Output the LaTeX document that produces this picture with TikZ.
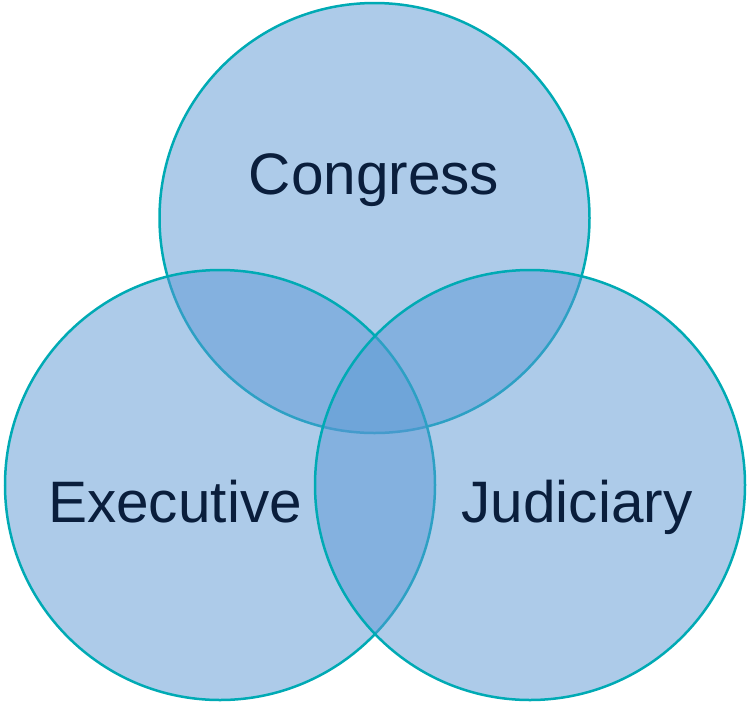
\documentclass[tikz,border=0pt]{standalone}
\usepackage{fontspec}
\setmainfont{Liberation Sans}
\usepackage{xcolor}
\definecolor{ringteal}{RGB}{0,170,180}
\definecolor{setblue}{RGB}{91,152,212}
\definecolor{labelnavy}{RGB}{10,30,60}
\usepackage{tikz}

\begin{document}
\begin{tikzpicture}[x=1pt, y=-1pt,
    setcircle/.style={circle, minimum size=430pt, inner sep=0pt, fill=setblue, fill opacity=0.5, draw=ringteal, line width=2.5pt},
    setlabel/.style={anchor=base, text=labelnavy, font=\fontsize{58.5}{70}\selectfont}]
  \useasboundingbox (0,0) rectangle (749,705);
  % the three branches
  \node[setcircle] (congressset) at (374.5,218) {};
  \node[setcircle] (executiveset) at (220,485) {};
  \node[setcircle] (judiciaryset) at (530,485) {};
  % labels
  \node[setlabel] (congress) at (374,194) {Congress};
  \node[setlabel] (executive) at (175,522) {Executive};
  \node[setlabel] (judiciary) at (577,522) {Judiciary};
\end{tikzpicture}
\end{document}
